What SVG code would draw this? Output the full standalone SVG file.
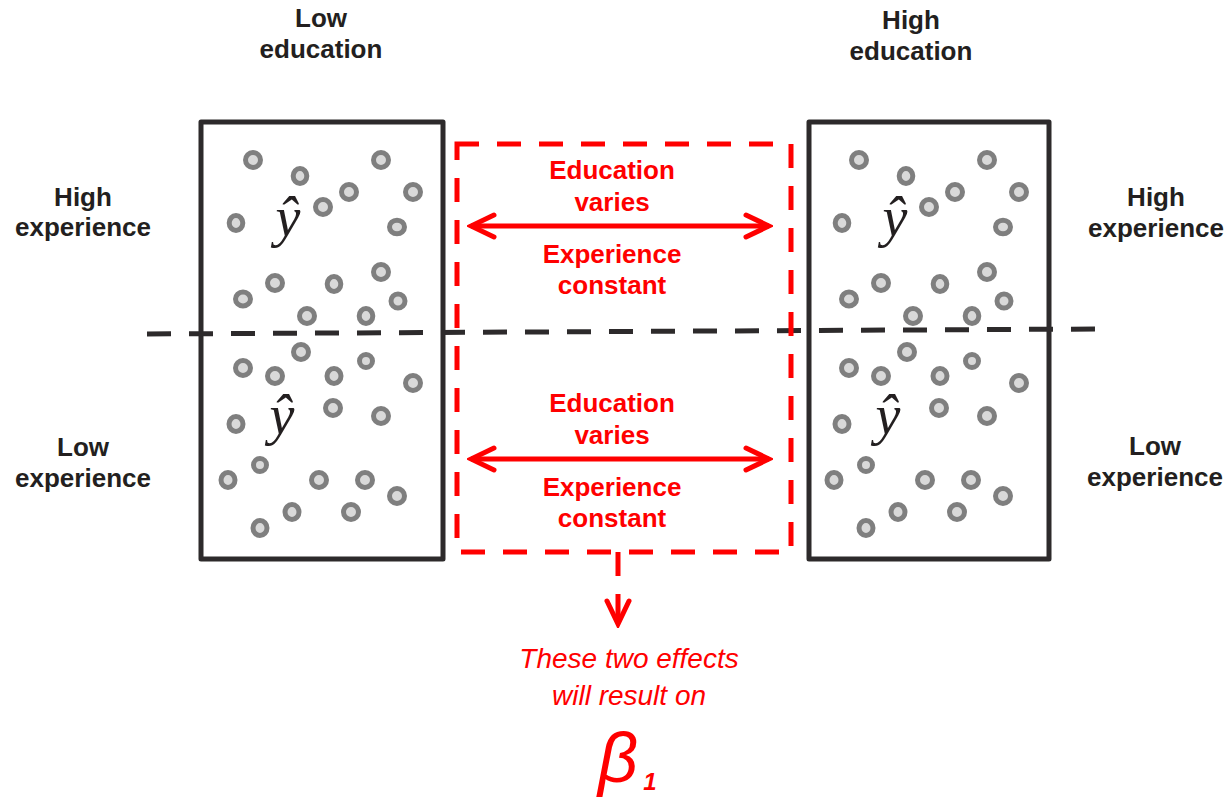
<svg xmlns="http://www.w3.org/2000/svg" width="1229" height="799" viewBox="0 0 1229 799">
<style>
.lbl{font-family:"Liberation Sans",Arial,sans-serif;font-weight:bold;font-size:26px;fill:#231f20;text-anchor:middle}
.rt{font-family:"Liberation Sans",Arial,sans-serif;font-weight:bold;font-size:26px;fill:#ff0000;text-anchor:middle}
.it{font-family:"Liberation Sans",Arial,sans-serif;font-style:italic;font-size:28px;fill:#ff0000;text-anchor:middle}
.yhat{font-family:"Liberation Serif","DejaVu Serif",serif;font-style:italic;font-size:56px;fill:#231f20;text-anchor:middle}
.box{fill:none;stroke:#2d2a2b;stroke-width:5;stroke-linejoin:round}
.dot{fill:#d9d9d9;stroke:#7f7f7f;stroke-width:5}
.rbox{fill:none;stroke:#ff0000;stroke-width:5;stroke-dasharray:24 18}
.arr{stroke:#ff0000;stroke-width:5;fill:none}
</style>
<defs>
<marker id="chev" viewBox="-28 -15 32 30" refX="0" refY="0" markerWidth="32" markerHeight="30" markerUnits="userSpaceOnUse" orient="auto-start-reverse">
<path d="M-23,-11 L0,0 L-23,11" fill="none" stroke="#ff0000" stroke-width="5" stroke-linecap="round" stroke-linejoin="miter"/>
</marker>
<g id="dotsU">
<ellipse class="dot" cx="253" cy="160" rx="7.5" ry="7.5"/>
<ellipse class="dot" cx="300" cy="176" rx="6.8" ry="7.5"/>
<ellipse class="dot" cx="381" cy="160" rx="7.5" ry="7.5"/>
<ellipse class="dot" cx="349" cy="192" rx="7.5" ry="7.5"/>
<ellipse class="dot" cx="413" cy="192" rx="7.5" ry="7.5"/>
<ellipse class="dot" cx="323" cy="207" rx="7.5" ry="7.5"/>
<ellipse class="dot" cx="236" cy="223" rx="6.8" ry="7.5"/>
<ellipse class="dot" cx="397" cy="227" rx="7.5" ry="6.8"/>
<ellipse class="dot" cx="275" cy="283" rx="7.5" ry="7.5"/>
<ellipse class="dot" cx="243" cy="299" rx="7.5" ry="7"/>
<ellipse class="dot" cx="334" cy="284" rx="6.8" ry="7.5"/>
<ellipse class="dot" cx="381" cy="272" rx="7.5" ry="7.5"/>
<ellipse class="dot" cx="398" cy="301" rx="7" ry="7"/>
<ellipse class="dot" cx="307" cy="316" rx="7.5" ry="7.5"/>
<ellipse class="dot" cx="366" cy="316" rx="6.8" ry="7.5"/>
</g>
<g id="dotsL">
<ellipse class="dot" cx="301" cy="352" rx="7.5" ry="7.5"/>
<ellipse class="dot" cx="243" cy="368" rx="7.5" ry="7.5"/>
<ellipse class="dot" cx="275" cy="376" rx="7.5" ry="7.5"/>
<ellipse class="dot" cx="334" cy="376" rx="7" ry="7.5"/>
<ellipse class="dot" cx="366" cy="361" rx="6.5" ry="6.5"/>
<ellipse class="dot" cx="413" cy="383" rx="7.5" ry="7.5"/>
<ellipse class="dot" cx="236" cy="424" rx="7" ry="7.5"/>
<ellipse class="dot" cx="333" cy="408" rx="7.5" ry="7.5"/>
<ellipse class="dot" cx="381" cy="416" rx="7.5" ry="7.5"/>
<ellipse class="dot" cx="260" cy="465" rx="6.5" ry="6.5"/>
<ellipse class="dot" cx="228" cy="480" rx="7" ry="7.5"/>
<ellipse class="dot" cx="319" cy="480" rx="7.5" ry="7.5"/>
<ellipse class="dot" cx="365" cy="480" rx="7.5" ry="7.5"/>
<ellipse class="dot" cx="397" cy="496" rx="7.5" ry="7.5"/>
<ellipse class="dot" cx="292" cy="512" rx="7" ry="7.5"/>
<ellipse class="dot" cx="351" cy="512" rx="7.5" ry="7.5"/>
<ellipse class="dot" cx="260" cy="528" rx="7" ry="7.5"/>
</g>
</defs>
<rect width="1229" height="799" fill="#ffffff"/>

<g id="low-education">
<use href="#dotsU"/>
<use href="#dotsL"/>
<rect class="box" x="201" y="122" width="242" height="437"/>
<text class="yhat" x="288" y="236">ŷ</text>
<text class="yhat" x="282" y="434">ŷ</text>
<text class="lbl" x="321" y="27">Low</text>
<text class="lbl" x="321" y="58">education</text>
</g>

<g id="high-education">
<use href="#dotsU" transform="translate(606,0)"/>
<use href="#dotsL" transform="translate(606,0)"/>
<rect class="box" x="809" y="122" width="240" height="437"/>
<text class="yhat" x="895" y="236">ŷ</text>
<text class="yhat" x="888" y="434">ŷ</text>
<text class="lbl" x="911" y="29">High</text>
<text class="lbl" x="911" y="60">education</text>
</g>

<g id="experience-labels">
<text class="lbl" x="83" y="206">High</text>
<text class="lbl" x="83" y="236">experience</text>
<text class="lbl" x="83" y="456">Low</text>
<text class="lbl" x="83" y="487">experience</text>
<text class="lbl" x="1156" y="206">High</text>
<text class="lbl" x="1156" y="237">experience</text>
<text class="lbl" x="1155" y="455">Low</text>
<text class="lbl" x="1155" y="486">experience</text>
</g>

<g id="divider">
<line x1="147" y1="334" x2="1095" y2="329" stroke="#2d2a2b" stroke-width="5" stroke-dasharray="24 18"/>
</g>

<g id="comparison">
<rect class="rbox" x="457" y="144" width="334" height="408" stroke-dashoffset="2"/>
<text class="rt" x="612" y="179">Education</text>
<text class="rt" x="612" y="211">varies</text>
<text class="rt" x="612" y="263">Experience</text>
<text class="rt" x="612" y="294">constant</text>
<text class="rt" x="612" y="412">Education</text>
<text class="rt" x="612" y="444">varies</text>
<text class="rt" x="612" y="496">Experience</text>
<text class="rt" x="612" y="527">constant</text>
</g>

<g id="connectors">
<line class="arr" x1="471" y1="226" x2="769" y2="226" marker-start="url(#chev)" marker-end="url(#chev)"/>
<line class="arr" x1="471" y1="459" x2="769" y2="459" marker-start="url(#chev)" marker-end="url(#chev)"/>
<line class="arr" x1="618" y1="552" x2="618" y2="624" stroke-dasharray="24 18" marker-end="url(#chev)"/>
</g>

<g id="result">
<text class="it" x="629" y="668">These two effects</text>
<text class="it" x="629" y="705">will result on</text>
<text x="618" y="782" font-family="Liberation Sans,Arial,sans-serif" font-style="italic" font-size="70" fill="#ff0000" text-anchor="middle">β</text>
<text x="650" y="790" font-family="Liberation Sans,Arial,sans-serif" font-style="italic" font-weight="bold" font-size="24" fill="#ff0000" text-anchor="middle">1</text>
</g>
</svg>
